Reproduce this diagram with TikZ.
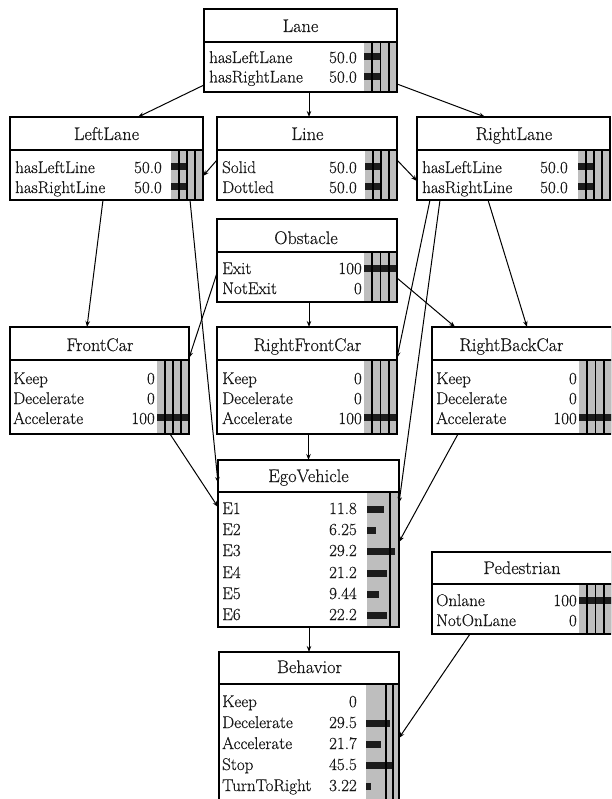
\documentclass[tikz,border=0pt]{standalone}
\usepackage{fontspec}
\newfontfamily\diafont{Latin Modern Roman}[FakeBold=0.45]
\usetikzlibrary{arrows.meta}
\definecolor{bargray}{RGB}{190,190,190}
\definecolor{barblk}{RGB}{28,28,28}
\tikzset{
  box/.style={draw=black, line width=1.6pt, rectangle, inner sep=0pt, outer sep=0pt},
  sepline/.style={line width=1.6pt},
  gridline/.style={line width=1.6pt},
  lbl/.style={inner sep=0pt, text=black!90, font=\diafont\fontsize{17}{20}\selectfont},
  ttl/.style={inner sep=0pt, text=black!90, font=\diafont\fontsize{18.3}{22}\selectfont, anchor=base},
  arr/.style={line width=1pt, -{Stealth[length=6pt,width=4.5pt]}},
}
% #1 name, #2 L, #3 T, #4 R, #5 sep, #6 B
\newcommand{\nbox}[6]{%
  \node[box, minimum width={#4pt-#2pt}, minimum height={#6pt-#3pt}] (#1) at ({(#2+#4)/2},{(#3+#6)/2}) {};
  \draw[sepline] (#2,#5) -- (#4,#5);}
% #1 bx, #2 R, #3 S, #4 B
\newcommand{\gfill}[4]{\fill[bargray] (#1,#3) rectangle (#2,#4);}
\newcommand{\glines}[4]{%
  \foreach \k in {1,2,3}{\draw[gridline] ({#1+\k*(#2-#1)/4},#3) -- ({#1+\k*(#2-#1)/4},#4);}}
% #1 bx, #2 centre y, #3 width
\newcommand{\bbar}[3]{\fill[barblk] (#1,{#2-3.5}) rectangle ({#1+#3},{#2+3.5});}
% #1 name, #2 label x, #3 value x, #4 baseline, #5 label, #6 value
\newcommand{\brow}[6]{%
  \node[lbl, anchor=base west] (#1-l) at (#2,#4) {#5};
  \node[lbl, anchor=base east] (#1-v) at (#3,#4) {#6};}

\begin{document}
\begin{tikzpicture}[x=1pt,y=-1pt]
\useasboundingbox (0,0) rectangle (611,799);
\clip (0,0) rectangle (611,799);

% ---------- Lane
\gfill{364}{397}{42}{92}
\bbar{364}{57}{16.5}\bbar{364}{76.5}{16.5}
\glines{364}{397}{42}{92}
\nbox{lane}{204}{9}{397}{42}{92}
\node[ttl] (lane-t) at (300.5,32) {Lane};
\brow{lane-a}{209}{357}{63}{hasLeftLane}{50.0}
\brow{lane-b}{209}{357}{82.5}{hasRightLane}{50.0}

% ---------- LeftLane
\gfill{171}{203}{150}{200}
\bbar{171}{167}{16}\bbar{171}{187}{16}
\glines{171}{203}{150}{200}
\nbox{leftlane}{10}{117}{203}{150}{200}
\node[ttl] (leftlane-t) at (106.5,140) {LeftLane};
\brow{leftlane-a}{15}{162}{173}{hasLeftLine}{50.0}
\brow{leftlane-b}{15}{162}{193}{hasRightLine}{50.0}

% ---------- Line
\gfill{365}{397}{150}{200}
\bbar{365}{167}{16}\bbar{365}{187}{16}
\glines{365}{397}{150}{200}
\nbox{line}{217}{117}{397}{150}{200}
\node[ttl] (line-t) at (307.5,140) {Line};
\brow{line-a}{222}{357}{173}{Solid}{50.0}
\brow{line-b}{222}{357}{193}{Dottled}{50.0}

% ---------- RightLane
\gfill{578}{610}{150}{200}
\bbar{578}{167}{16}\bbar{578}{187}{16}
\glines{578}{610}{150}{200}
\nbox{rightlane}{417}{117}{610}{150}{200}
\node[ttl] (rightlane-t) at (514,140) {RightLane};
\brow{rightlane-a}{422}{568}{173}{hasLeftLine}{50.0}
\brow{rightlane-b}{422}{568}{193}{hasRightLine}{50.0}

% ---------- Obstacle
\gfill{364}{397}{252}{302}
\bbar{364}{268.5}{33}
\glines{364}{397}{252}{302}
\nbox{obstacle}{217}{219}{397}{252}{302}
\node[ttl] (obstacle-t) at (306,244) {Obstacle};
\brow{obstacle-a}{222}{362}{274}{Exit}{100}
\brow{obstacle-b}{222}{362}{294}{NotExit}{0}

% ---------- FrontCar
\gfill{157}{189}{360}{434}
\bbar{157}{417.5}{32}
\glines{157}{189}{360}{434}
\nbox{frontcar}{10}{327}{189}{360}{434}
\node[ttl] (frontcar-t) at (100,351) {FrontCar};
\brow{frontcar-a}{13}{155}{384}{Keep}{0}
\brow{frontcar-b}{13}{155}{404}{Decelerate}{0}
\brow{frontcar-c}{13}{155}{424}{Accelerate}{100}

% ---------- RightFrontCar
\gfill{364}{397}{360}{434}
\bbar{364}{417.5}{33}
\glines{364}{397}{360}{434}
\nbox{rfc}{217}{327}{397}{360}{434}
\node[ttl] (rfc-t) at (307.5,351) {RightFrontCar};
\brow{rfc-a}{222}{362}{384}{Keep}{0}
\brow{rfc-b}{222}{362}{404}{Decelerate}{0}
\brow{rfc-c}{222}{362}{424}{Accelerate}{100}

% ---------- RightBackCar
\gfill{579}{612}{360}{434}
\bbar{579}{417.5}{33}
\glines{579}{612}{360}{434}
\nbox{rbc}{432}{327}{612}{360}{434}
\node[ttl] (rbc-t) at (511.5,351) {RightBackCar};
\brow{rbc-a}{436}{577}{384}{Keep}{0}
\brow{rbc-b}{436}{577}{404}{Decelerate}{0}
\brow{rbc-c}{436}{577}{424}{Accelerate}{100}

% ---------- EgoVehicle
\fill[bargray] (367,492) rectangle (399,627);
\bbar{367}{509.5}{17}\bbar{367}{530.5}{9}\bbar{367}{551.5}{28}
\bbar{367}{573.5}{20}\bbar{367}{594.5}{12}\bbar{367}{615.5}{20}
\draw[gridline] (390,492) -- (390,627);
\nbox{ego}{218}{460}{399}{492}{627}
\node[ttl] (ego-t) at (308.5,482) {EgoVehicle};
\brow{ego-a}{222}{357}{514}{E1}{11.8}
\brow{ego-b}{222}{357}{535}{E2}{6.25}
\brow{ego-c}{222}{357}{556}{E3}{29.2}
\brow{ego-d}{222}{357}{578}{E4}{21.2}
\brow{ego-e}{222}{357}{599}{E5}{9.44}
\brow{ego-f}{222}{357}{620}{E6}{22.2}

% ---------- Behavior
\fill[bargray] (366,684) rectangle (399,830);
\bbar{366}{723.5}{24}\bbar{366}{744.5}{15}\bbar{366}{765.5}{26}\bbar{366}{786.5}{5}
\draw[gridline] (386,684) -- (386,830);
\draw[gridline] (393,684) -- (393,830);
\nbox{behavior}{219}{652}{399}{684}{830}
\node[ttl] (behavior-t) at (309.5,673) {Behavior};
\brow{behavior-a}{222}{357}{707}{Keep}{0}
\brow{behavior-b}{222}{357}{728}{Decelerate}{29.5}
\brow{behavior-c}{222}{357}{749}{Accelerate}{21.7}
\brow{behavior-d}{222}{357}{770}{Stop}{45.5}
\brow{behavior-e}{222}{357}{791}{TurnToRight}{3.22}

% ---------- Pedestrian
\gfill{579}{612}{584}{634}
\bbar{579}{600}{33}
\glines{579}{612}{584}{634}
\nbox{ped}{432}{552}{612}{584}{634}
\node[ttl] (ped-t) at (522,574) {Pedestrian};
\brow{ped-a}{436}{577}{606}{Onlane}{100}
\brow{ped-b}{436}{577}{626}{NotOnLane}{0}

% ---------- connectors
\draw[arr] ([yshift=7pt]lane.south west) -- ([xshift=31.5pt]leftlane.north);
\coordinate (j1) at ([xshift=2pt]line.north);
\draw[arr] (lane.south -| j1) -- (j1);
\draw[arr] ([yshift=8pt]lane.south east) -- ([xshift=-28.5pt]rightlane.north);
\draw[arr] ([yshift=-1.5pt]line.west) -- ([yshift=-17.5pt]leftlane.east);
\draw[arr] ([yshift=-1.5pt]line.east) -- ([yshift=-22.5pt]rightlane.west);
\draw[arr] ([xshift=-3.5pt]leftlane.south) -- ([xshift=-12.5pt]frontcar.north);
\draw[arr] ([xshift=-13pt]leftlane.south east) -- ([yshift=-23pt]ego.north west);
\draw[arr] ([yshift=-12.5pt]obstacle.west) -- ([yshift=-31pt]frontcar.north east);
\coordinate (j2) at ([xshift=2pt]rfc.north);
\draw[arr] (obstacle.south -| j2) -- (j2);
\draw[arr] ([yshift=-17.5pt]obstacle.east) -- ([xshift=23pt]rbc.north west);
\draw[arr] ([xshift=13pt]rightlane.south west) -- ([yshift=-31pt]rfc.north east);
\draw[arr] ([xshift=23pt]rightlane.south west) -- ([yshift=-43pt]ego.north east);
\draw[arr] ([xshift=-25.5pt]rightlane.south) -- ([xshift=95pt]rbc.north west);
\draw[arr] ([xshift=-19pt]frontcar.south east) -- ([yshift=-47pt]ego.north west);
\draw[arr] (rfc.south -| ego.north) -- (ego.north);
\draw[arr] ([xshift=26pt]rbc.south west) -- ([yshift=-82pt]ego.north east);
\draw[arr] (ego.south -| behavior.north) -- (behavior.north);
\draw[arr] ([xshift=38pt]ped.south west) -- ([yshift=-86pt]behavior.north east);
\end{tikzpicture}
\end{document}
